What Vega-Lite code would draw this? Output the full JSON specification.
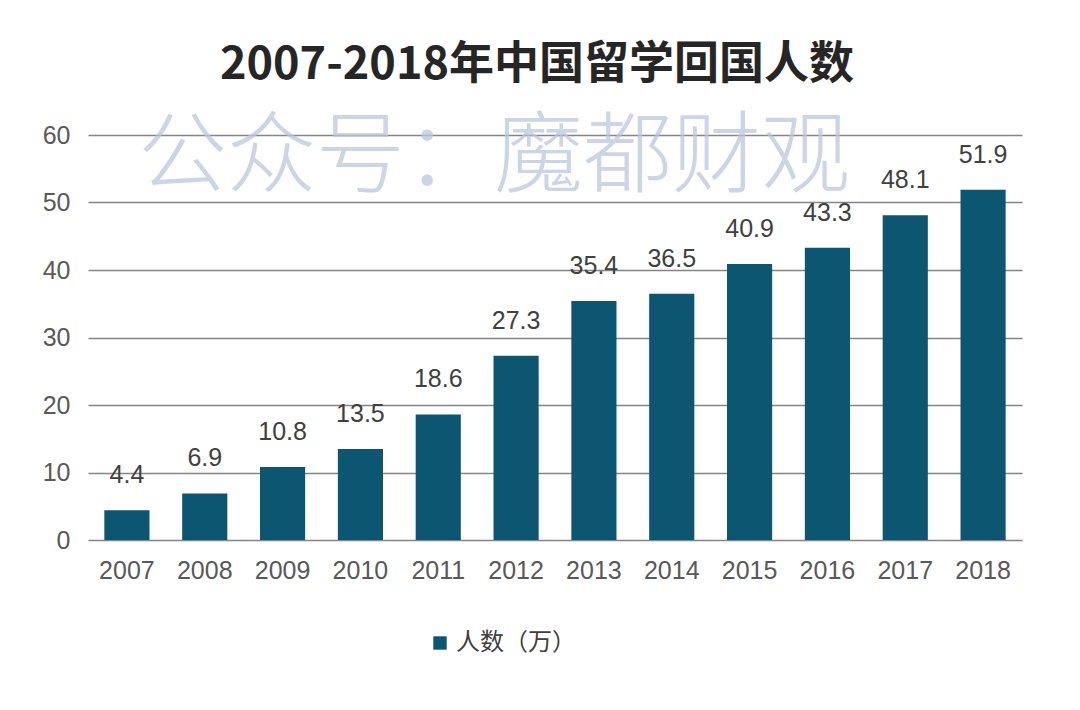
{
  "$schema": "https://vega.github.io/schema/vega-lite/v6.json",
  "description": "2007-2018年中国留学回国人数 bar chart",
  "width": 934,
  "height": 405,
  "autosize": {"type": "none"},
  "padding": {"left": 88, "top": 135, "right": 58, "bottom": 170},
  "background": "#ffffff",
  "view": {"stroke": null},
  "title": {
    "text": "2007-2018年中国留学回国人数",
    "font": "Noto Sans CJK SC",
    "fontSize": 45,
    "fontWeight": "bold",
    "color": "#262626",
    "anchor": "middle",
    "baseline": "alphabetic",
    "dx": -18,
    "dy": 10,
    "offset": 0
  },
  "data": {
    "values": [
      {"year": "2007", "value": 4.4},
      {"year": "2008", "value": 6.9},
      {"year": "2009", "value": 10.8},
      {"year": "2010", "value": 13.5},
      {"year": "2011", "value": 18.6},
      {"year": "2012", "value": 27.3},
      {"year": "2013", "value": 35.4},
      {"year": "2014", "value": 36.5},
      {"year": "2015", "value": 40.9},
      {"year": "2016", "value": 43.3},
      {"year": "2017", "value": 48.1},
      {"year": "2018", "value": 51.9}
    ]
  },
  "encoding": {
    "x": {
      "field": "year",
      "type": "nominal",
      "sort": null,
      "scale": {"paddingInner": 0.42, "paddingOuter": 0.21},
      "axis": {
        "title": null,
        "labelAngle": 0,
        "domain": false,
        "ticks": false,
        "labelFont": "Liberation Sans",
        "labelFontSize": 25,
        "labelColor": "#595959",
        "labelPadding": 18
      }
    },
    "y": {
      "field": "value",
      "type": "quantitative",
      "scale": {"domain": [0, 60]},
      "axis": {
        "title": null,
        "values": [0, 10, 20, 30, 40, 50, 60],
        "domain": false,
        "ticks": false,
        "grid": true,
        "gridColor": "#858585",
        "gridWidth": 1.3,
        "labelFont": "Liberation Sans",
        "labelFontSize": 25,
        "labelColor": "#595959",
        "labelPadding": 18
      }
    }
  },
  "layer": [
    {
      "mark": {"type": "bar"},
      "encoding": {
        "color": {
          "datum": "人数（万）",
          "type": "nominal",
          "scale": {"range": ["#0c5672"]},
          "legend": {
            "title": null,
            "orient": "none",
            "legendX": 340,
            "legendY": 496,
            "symbolType": "square",
            "symbolSize": 180,
            "symbolStrokeWidth": 0,
            "labelFont": "Noto Sans CJK SC",
            "labelFontSize": 24,
            "labelColor": "#404040",
            "labelOffset": 4
          }
        }
      }
    },
    {
      "mark": {
        "type": "text",
        "baseline": "alphabetic",
        "dy": -27,
        "font": "Liberation Sans",
        "fontSize": 25,
        "color": "#404040"
      },
      "encoding": {
        "text": {"field": "value", "type": "quantitative", "format": ".1f"}
      }
    },
    {
      "data": {"values": [{"year": "2012", "value": 56.6, "label": "公众号：魔都财观"}]},
      "mark": {
        "type": "text",
        "baseline": "middle",
        "align": "center",
        "dx": -22,
        "font": "Noto Sans CJK SC",
        "fontSize": 89,
        "fontWeight": 300,
        "color": "#bcc6df",
        "opacity": 0.75
      },
      "encoding": {
        "text": {"field": "label", "type": "nominal"}
      }
    }
  ]
}
